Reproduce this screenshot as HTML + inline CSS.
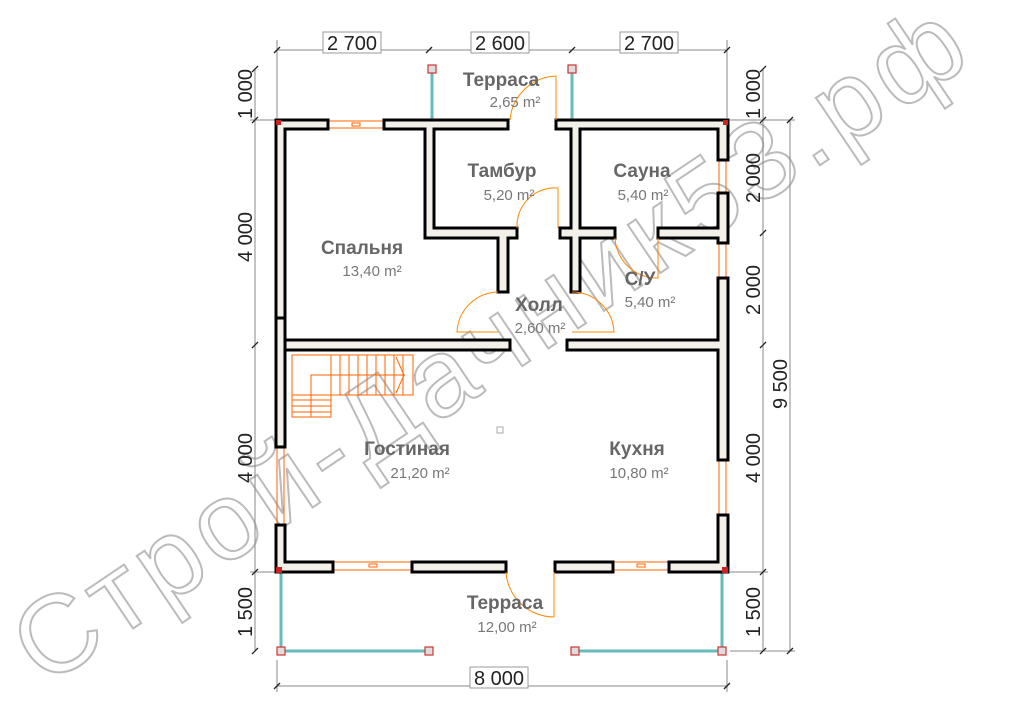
<!DOCTYPE html>
<html><head><meta charset="utf-8"><style>
html,body{margin:0;padding:0;background:#fff;}
svg{display:block;font-family:"Liberation Sans",sans-serif;}
.w{fill:#f2f0e8;stroke:#000;stroke-width:3;}
.win{fill:none;stroke:#f60;stroke-width:1;}
.dim{stroke:#888;stroke-width:1;fill:none;}
.dl{font-size:20px;fill:#222;}
.rn{font-size:19px;font-weight:bold;fill:#666;text-anchor:middle;}
.ra{font-size:15px;fill:#777;text-anchor:middle;}
.door{fill:none;stroke:#f80;stroke-width:1;}
.gl{stroke:#6bb;stroke-width:3;}
.post{fill:#ddd;stroke:#c33;stroke-width:1.2;}
</style></head><body>
<svg width="1018" height="720" viewBox="0 0 1018 720">
<!-- watermark -->
<text x="45" y="688" transform="rotate(-34 45 688)" font-size="110" textLength="1120" fill="none" stroke="#bbb" stroke-width="2" font-family="Liberation Sans,sans-serif">Строй-Дачник53.рф</text>

<!-- dimension lines -->
<g class="dim">
<line x1="277" y1="50" x2="727" y2="50"/>
<line x1="255" y1="69" x2="255" y2="651"/>
<line x1="763" y1="69" x2="763" y2="651"/>
<line x1="790" y1="120" x2="790" y2="651"/>
<line x1="277" y1="686" x2="727" y2="686"/>
<line x1="277" y1="40" x2="277" y2="118"/><line x1="727" y1="40" x2="727" y2="118"/>
<line x1="250" y1="120" x2="275" y2="120"/><line x1="250" y1="572" x2="275" y2="572"/>
<line x1="277" y1="660" x2="277" y2="692"/><line x1="727" y1="660" x2="727" y2="692"/>
<line x1="730" y1="120" x2="795" y2="120"/><line x1="730" y1="572" x2="768" y2="572"/>
<line x1="730" y1="651" x2="795" y2="651"/>
</g>
<g stroke="#222" stroke-width="1.3">
<line x1="274" y1="53" x2="280" y2="47"/><line x1="426" y1="53" x2="432" y2="47"/><line x1="569" y1="53" x2="575" y2="47"/><line x1="724" y1="53" x2="730" y2="47"/>
<line x1="252" y1="72" x2="258" y2="66"/><line x1="252" y1="123" x2="258" y2="117"/><line x1="252" y1="348" x2="258" y2="342"/><line x1="252" y1="575" x2="258" y2="569"/><line x1="252" y1="654" x2="258" y2="648"/>
<line x1="760" y1="72" x2="766" y2="66"/><line x1="760" y1="123" x2="766" y2="117"/><line x1="760" y1="236" x2="766" y2="230"/><line x1="760" y1="348" x2="766" y2="342"/><line x1="760" y1="575" x2="766" y2="569"/><line x1="760" y1="654" x2="766" y2="648"/>
<line x1="787" y1="123" x2="793" y2="117"/><line x1="787" y1="654" x2="793" y2="648"/>
<line x1="274" y1="689" x2="280" y2="683"/><line x1="724" y1="689" x2="730" y2="683"/>
</g>
<g class="dl">
<rect x="323" y="32" width="58" height="21" fill="#fff" stroke="#999"/><text x="352" y="50" text-anchor="middle">2 700</text>
<rect x="471" y="32" width="58" height="21" fill="#fff" stroke="#999"/><text x="500" y="50" text-anchor="middle">2 600</text>
<rect x="620" y="32" width="58" height="21" fill="#fff" stroke="#999"/><text x="649" y="50" text-anchor="middle">2 700</text>
<rect x="470" y="667" width="58" height="21" fill="#fff" stroke="#999"/><text x="499" y="685" text-anchor="middle">8 000</text>
<g text-anchor="middle">
<text transform="translate(252,94) rotate(-90)">1 000</text>
<text transform="translate(252,237) rotate(-90)">4 000</text>
<text transform="translate(252,458) rotate(-90)">4 000</text>
<text transform="translate(252,612) rotate(-90)">1 500</text>
<text transform="translate(760,94) rotate(-90)">1 000</text>
<text transform="translate(760,178) rotate(-90)">2 000</text>
<text transform="translate(760,290) rotate(-90)">2 000</text>
<text transform="translate(760,458) rotate(-90)">4 000</text>
<text transform="translate(760,612) rotate(-90)">1 500</text>
<text transform="translate(787,384) rotate(-90)">9 500</text>
</g>
</g>

<!-- terrace glass -->
<g class="gl">
<line x1="432" y1="69" x2="432" y2="120"/><line x1="572" y1="69" x2="572" y2="120"/>
<line x1="281" y1="572" x2="281" y2="651"/><line x1="722" y1="572" x2="722" y2="651"/>
<line x1="281" y1="651" x2="429" y2="651"/><line x1="575" y1="651" x2="722" y2="651"/>
</g>

<!-- windows -->
<g class="win">
<rect x="328" y="121" width="56" height="7"/><rect x="352" y="123" width="8" height="3"/>
<rect x="277" y="262" width="7" height="56"/>
<rect x="277" y="447" width="7" height="78"/>
<rect x="719" y="160" width="7" height="33"/><rect x="719" y="243" width="7" height="35"/>
<rect x="719" y="460" width="7" height="55"/>
<rect x="333" y="562" width="79" height="8"/><rect x="369" y="564" width="8" height="3"/>
<rect x="613" y="562" width="56" height="8"/><rect x="637" y="564" width="8" height="3"/>
</g>

<!-- walls -->
<g class="w">
<path d="M276,120 H328 V129 H285 V340 H510 V350 H285 V447 H276 Z"/>
<path d="M276,318 H285 V447 H276 Z"/>
<path d="M384,120 H508 V129 H434 V228 H517 V238 H508 V292 H498 V238 H425 V129 H384 Z"/>
<path d="M556,120 H728 V160 H718 V129 H580 V228 H615 V238 H580 V292 H571 V238 H560 V228 H571 V129 H556 Z"/>
<path d="M658,228 H718 V193 H728 V243 H718 V238 H658 Z"/>
<path d="M718,278 H728 V460 H718 V350 H567 V340 H718 Z"/>
<path d="M276,525 H285 V562 H333 V572 H276 Z"/>
<path d="M412,562 H506 V572 H412 Z"/>
<path d="M555,562 H613 V572 H555 Z"/>
<path d="M669,562 H718 V515 H728 V572 H669 Z"/>
</g>
<rect x="276" y="120" width="5" height="5" fill="#c22"/><rect x="723" y="120" width="5" height="5" fill="#c22"/>
<rect x="276" y="567" width="6" height="6" fill="#c22"/><rect x="722" y="567" width="6" height="6" fill="#c22"/>

<!-- doors -->
<g class="door">
<path d="M510,120 A48,48 0 0 1 556,76 V120"/>
<path d="M517,228 A38,38 0 0 1 558,188 V228"/>
<path d="M615,238 A42,42 0 0 0 658,278 V238"/>
<path d="M498,292 A42,42 0 0 0 457,332 H498"/>
<path d="M572,292 A42,42 0 0 1 614,332 H572"/>
<path d="M506,572 A48,48 0 0 0 554,617 V572"/>
</g>

<!-- stairs -->
<g stroke="#f60" stroke-width="1" fill="none">
<rect x="292" y="355" width="121" height="40"/>
<rect x="292" y="355" width="39" height="62"/>
<path d="M311,417 V375 H405"/>
<path d="M331,355 V395 M340,355 V395 M349,355 V395 M358,355 V395 M367,355 V395 M376,355 V395 M385,355 V395 M394,355 V395 M403,355 V395"/>
<path d="M292,400 H331 M292,406 H331 M292,412 H331"/>
<path d="M396,357 L404,375 L396,393"/>
</g>

<!-- posts -->
<g class="post">
<rect x="428" y="65" width="8" height="8"/><rect x="568" y="65" width="8" height="8"/>
<rect x="277" y="647" width="8" height="8"/><rect x="425" y="647" width="8" height="8"/>
<rect x="571" y="647" width="8" height="8"/><rect x="718" y="647" width="8" height="8"/>
</g>
<rect x="497" y="427" width="6" height="6" fill="none" stroke="#aaa"/>

<!-- labels -->
<text class="rn" x="501" y="86">Терраса</text><text class="ra" x="515" y="107">2,65 m²</text>
<text class="rn" x="502" y="177">Тамбур</text><text class="ra" x="509" y="200">5,20 m²</text>
<text class="rn" x="642" y="177">Сауна</text><text class="ra" x="643" y="200">5,40 m²</text>
<text class="rn" x="362" y="254">Спальня</text><text class="ra" x="372" y="276">13,40 m²</text>
<text class="rn" x="640" y="285">С/У</text><text class="ra" x="650" y="307">5,40 m²</text>
<text class="rn" x="539" y="311">Холл</text><text class="ra" x="540" y="333">2,60 m²</text>
<text class="rn" x="407" y="455">Гостиная</text><text class="ra" x="420" y="478">21,20 m²</text>
<text class="rn" x="637" y="455">Кухня</text><text class="ra" x="639" y="478">10,80 m²</text>
<text class="rn" x="505" y="609">Терраса</text><text class="ra" x="507" y="632">12,00 m²</text>
</svg>
</body></html>
